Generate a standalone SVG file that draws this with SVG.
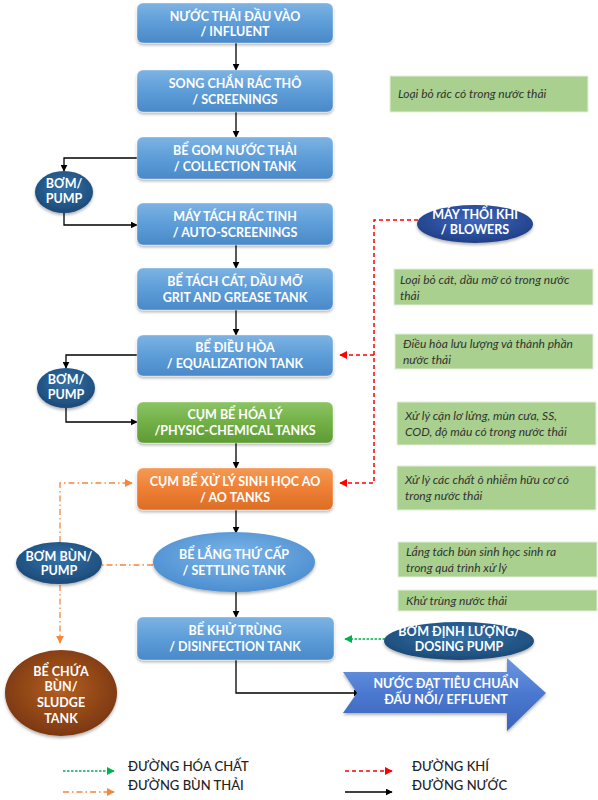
<svg xmlns="http://www.w3.org/2000/svg" width="598" height="800" viewBox="0 0 598 800">
<defs>
<linearGradient id="gBlue" x1="0" y1="0" x2="0" y2="1">
<stop offset="0" stop-color="#7DB3E3"/><stop offset="0.5" stop-color="#5D9DD8"/><stop offset="1" stop-color="#4A89C8"/>
</linearGradient>
<linearGradient id="gGreen" x1="0" y1="0" x2="0" y2="1">
<stop offset="0" stop-color="#8CC466"/><stop offset="0.5" stop-color="#72B045"/><stop offset="1" stop-color="#5E9B36"/>
</linearGradient>
<linearGradient id="gOrange" x1="0" y1="0" x2="0" y2="1">
<stop offset="0" stop-color="#F49A55"/><stop offset="0.5" stop-color="#EE7F34"/><stop offset="1" stop-color="#DB6E25"/>
</linearGradient>
<radialGradient id="gPump" cx="0.5" cy="0.4" r="0.6">
<stop offset="0" stop-color="#3472A8"/><stop offset="1" stop-color="#1B4A78"/>
</radialGradient>
<radialGradient id="gBlower" cx="0.5" cy="0.4" r="0.6">
<stop offset="0" stop-color="#3E68BE"/><stop offset="1" stop-color="#203F86"/>
</radialGradient>
<radialGradient id="gSettle" cx="0.5" cy="0.4" r="0.6">
<stop offset="0" stop-color="#7DB6E8"/><stop offset="1" stop-color="#4C8ED0"/>
</radialGradient>
<radialGradient id="gSludge" cx="0.5" cy="0.45" r="0.55">
<stop offset="0" stop-color="#B35F22"/><stop offset="1" stop-color="#7C3810"/>
</radialGradient>
<linearGradient id="gArrow" x1="0" y1="0" x2="0" y2="1">
<stop offset="0" stop-color="#6E97E0"/><stop offset="0.5" stop-color="#4A78D0"/><stop offset="1" stop-color="#3A64B8"/>
</linearGradient>
<filter id="sh" x="-10%" y="-20%" width="120%" height="150%">
<feDropShadow dx="0" dy="2" stdDeviation="1.5" flood-color="#000" flood-opacity="0.3"/>
</filter>
<marker id="mBlack" viewBox="0 0 10 10" refX="9" refY="5" markerWidth="7" markerHeight="7" orient="auto" markerUnits="userSpaceOnUse">
<path d="M0,0 L10,5 L0,10 z" fill="#000"/>
</marker>
<marker id="mRed" viewBox="0 0 10 10" refX="9" refY="5" markerWidth="8" markerHeight="8" orient="auto" markerUnits="userSpaceOnUse">
<path d="M0,0 L10,5 L0,10 z" fill="#F00"/>
</marker>
<marker id="mGreen" viewBox="0 0 10 10" refX="9" refY="5" markerWidth="8" markerHeight="8" orient="auto" markerUnits="userSpaceOnUse">
<path d="M0,0 L10,5 L0,10 z" fill="#00B050"/>
</marker>
<marker id="mOrange" viewBox="0 0 10 10" refX="9" refY="5" markerWidth="8" markerHeight="8" orient="auto" markerUnits="userSpaceOnUse">
<path d="M0,0 L10,5 L0,10 z" fill="#F4873C"/>
</marker>
</defs>
<style>
.box{stroke:#FFFFFF;stroke-opacity:0.35;stroke-width:1;filter:url(#sh)}
.t{font-family:"Lato","Open Sans","DejaVu Sans",sans-serif;font-weight:bold;font-size:12.5px;fill:#FFFFFF;text-anchor:middle}
.note rect{fill:#A9D08E;stroke:#E2F0D9;stroke-width:1}
.note text{font-family:"Lato","Open Sans","DejaVu Sans",sans-serif;font-style:italic;font-size:12px;fill:#333333}
.lg{font-family:"Lato","Open Sans","DejaVu Sans",sans-serif;font-size:13px;fill:#222222;font-weight:500}
.water{fill:none;stroke:#000;stroke-width:1.3;marker-end:url(#mBlack)}
.air{fill:none;stroke:#F00;stroke-width:1.5;stroke-dasharray:4 3}
.chem{fill:none;stroke:#00B050;stroke-width:1.5;stroke-dasharray:2.5 1.5}
.sludge{fill:none;stroke:#F4873C;stroke-width:1.3;stroke-dasharray:6 3 1.5 3}
</style>

<g id="connectors">
<path class="water" d="M236,43 V70"/>
<path class="water" d="M236,112 V137"/>
<path class="water" d="M137,158 H64 V171"/>
<path class="water" d="M64,212 V225 H137"/>
<path class="water" d="M236,245 V268"/>
<path class="water" d="M236,310 V335"/>
<path class="water" d="M137,355 H66 V368"/>
<path class="water" d="M66,408 V422 H137"/>
<path class="water" d="M236,443 V468"/>
<path class="water" d="M236,510 V533"/>
<path class="water" d="M236,592 V617"/>
<path class="water" d="M236,660 V693 H360"/>
<path class="air" d="M418,220 H374 V483 H340"/>
<path class="air" d="M374,355 H340"/>
<path d="M341,483 h-1" stroke="#F00" stroke-width="1.5" marker-end="url(#mRed)"/>
<path d="M341,355 h-1" stroke="#F00" stroke-width="1.5" marker-end="url(#mRed)"/>
<path class="chem" d="M385,639 H352"/>
<path d="M352,639 h-7" stroke="#00B050" stroke-width="1.5" marker-end="url(#mGreen)"/>
<path class="sludge" d="M153,565 H102"/>
<path class="sludge" d="M60,542 V483 H125"/>
<path d="M125,483 h7" stroke="#F4873C" stroke-width="1.3" marker-end="url(#mOrange)"/>
<path class="sludge" d="M60,585 V636"/>
<path d="M60,636 v7" stroke="#F4873C" stroke-width="1.3" marker-end="url(#mOrange)"/>
</g>

<g id="n-influent">
<rect class="box" x="137" y="3" width="196" height="40" rx="6" fill="url(#gBlue)"/>
<text class="t" x="235" y="21">NƯỚC THẢI ĐẦU VÀO</text>
<text class="t" x="235" y="36">/ INFLUENT</text>
</g>
<g id="n-screenings">
<rect class="box" x="137" y="70" width="196" height="42" rx="6" fill="url(#gBlue)"/>
<text class="t" x="235" y="88">SONG CHẮN RÁC THÔ</text>
<text class="t" x="235" y="104">/ SCREENINGS</text>
</g>
<g id="n-collection">
<rect class="box" x="137" y="137" width="196" height="42" rx="6" fill="url(#gBlue)"/>
<text class="t" x="235" y="155">BỂ GOM NƯỚC THẢI</text>
<text class="t" x="235" y="171">/ COLLECTION TANK</text>
</g>
<g id="n-pump1">
<ellipse cx="64" cy="192" rx="29" ry="21" fill="url(#gPump)" filter="url(#sh)"/>
<text class="t" x="64" y="188" font-size="12">BƠM/</text>
<text class="t" x="64" y="203" font-size="12">PUMP</text>
</g>
<g id="n-autoscreen">
<rect class="box" x="137" y="203" width="196" height="42" rx="6" fill="url(#gBlue)"/>
<text class="t" x="235" y="221">MÁY TÁCH RÁC TINH</text>
<text class="t" x="235" y="237">/ AUTO-SCREENINGS</text>
</g>
<g id="n-grit">
<rect class="box" x="137" y="268" width="196" height="42" rx="6" fill="url(#gBlue)"/>
<text class="t" x="235" y="286">BỂ TÁCH CÁT, DẦU MỠ</text>
<text class="t" x="235" y="302">GRIT AND GREASE TANK</text>
</g>
<g id="n-equal">
<rect class="box" x="137" y="335" width="196" height="41" rx="6" fill="url(#gBlue)"/>
<text class="t" x="235" y="352">BỂ ĐIỀU HÒA</text>
<text class="t" x="235" y="368">/ EQUALIZATION TANK</text>
</g>
<g id="n-pump2">
<ellipse cx="66" cy="388" rx="29" ry="20" fill="url(#gPump)" filter="url(#sh)"/>
<text class="t" x="66" y="384" font-size="12">BƠM/</text>
<text class="t" x="66" y="399" font-size="12">PUMP</text>
</g>
<g id="n-physchem">
<rect class="box" x="137" y="402" width="196" height="41" rx="6" fill="url(#gGreen)"/>
<text class="t" x="235" y="419">CỤM BỂ HÓA LÝ</text>
<text class="t" x="235" y="435">/PHYSIC-CHEMICAL TANKS</text>
</g>
<g id="n-ao">
<rect class="box" x="137" y="468" width="196" height="42" rx="6" fill="url(#gOrange)"/>
<text class="t" x="235" y="486">CỤM BỂ XỬ LÝ SINH HỌC AO</text>
<text class="t" x="235" y="502">/ AO TANKS</text>
</g>
<g id="n-settling">
<ellipse cx="234" cy="562" rx="81" ry="30" fill="url(#gSettle)" filter="url(#sh)"/>
<text class="t" x="234" y="559" font-size="13">BỂ LẮNG THỨ CẤP</text>
<text class="t" x="234" y="575" font-size="13">/ SETTLING TANK</text>
</g>
<g id="n-sludgepump">
<ellipse cx="59" cy="563" rx="43" ry="21" fill="url(#gPump)" filter="url(#sh)"/>
<text class="t" x="59" y="561" font-size="12">BƠM BÙN/</text>
<text class="t" x="59" y="575" font-size="12">PUMP</text>
</g>
<g id="n-disinfection">
<rect class="box" x="137" y="617" width="197" height="43" rx="6" fill="url(#gBlue)"/>
<text class="t" x="235" y="635">BỂ KHỬ TRÙNG</text>
<text class="t" x="235" y="651">/ DISINFECTION TANK</text>
</g>
<g id="n-sludgetank">
<ellipse cx="61" cy="693" rx="56" ry="43" fill="url(#gSludge)" filter="url(#sh)"/>
<text class="t" x="61" y="676">BỂ CHỨA</text>
<text class="t" x="61" y="691">BÙN/</text>
<text class="t" x="61" y="707">SLUDGE</text>
<text class="t" x="61" y="723">TANK</text>
</g>
<g id="n-blowers">
<ellipse cx="475" cy="224" rx="58" ry="19" fill="url(#gBlower)" filter="url(#sh)"/>
<text class="t" x="475" y="219" font-size="11.5">MÁY THỔI KHÍ</text>
<text class="t" x="475" y="234" font-size="11.5">/ BLOWERS</text>
</g>
<g id="n-dosing">
<ellipse cx="459" cy="641" rx="75" ry="19" fill="url(#gPump)" filter="url(#sh)"/>
<text class="t" x="459" y="636" font-size="11.5">BƠM ĐỊNH LƯỢNG/</text>
<text class="t" x="459" y="651" font-size="11.5">DOSING PUMP</text>
</g>
<g id="n-effluent">
<path d="M343,672 H507 V658 L546,693 L507,731 V713 H343 L357,693 Z" fill="url(#gArrow)" filter="url(#sh)"/>
<text class="t" x="446" y="688" font-size="13.5">NƯỚC ĐẠT TIÊU CHUẨN</text>
<text class="t" x="446" y="704" font-size="13.5">ĐẤU NỐI/ EFFLUENT</text>
</g>

<g id="notes">
<g class="note" id="note1"><rect x="390" y="76" width="198" height="36"/><text x="398" y="98">Loại bỏ rác có trong nước thải</text></g>
<g class="note" id="note2"><rect x="394" y="269" width="199" height="36"/><text x="400" y="284">Loại bỏ cát, dầu mỡ có trong nước</text><text x="400" y="300">thải</text></g>
<g class="note" id="note3"><rect x="395" y="334" width="198" height="35"/><text x="403" y="348">Điều hòa lưu lượng và thành phần</text><text x="403" y="364">nước thải</text></g>
<g class="note" id="note4"><rect x="397" y="402" width="199" height="43"/><text x="405" y="420">Xử lý cặn lơ lửng, mùn cưa, SS,</text><text x="405" y="436">COD, độ màu có trong nước thải</text></g>
<g class="note" id="note5"><rect x="397" y="466" width="199" height="44"/><text x="405" y="484">Xử lý các chất ô nhiễm hữu cơ có</text><text x="405" y="500">trong nước thải</text></g>
<g class="note" id="note6"><rect x="398" y="542" width="199" height="35"/><text x="406" y="556">Lắng tách bùn sinh học sinh ra</text><text x="406" y="572">trong quá trình xử lý</text></g>
<g class="note" id="note7"><rect x="398" y="590" width="199" height="21"/><text x="406" y="605">Khử trùng nước thải</text></g>
</g>

<g id="legend">
<path class="chem" d="M63,771 H107"/>
<path d="M107,771 h7" stroke="#00B050" stroke-width="1.5" marker-end="url(#mGreen)"/>
<text class="lg" x="128" y="771">ĐƯỜNG HÓA CHẤT</text>
<path class="sludge" d="M63,792 H107"/>
<path d="M107,792 h7" stroke="#F4873C" stroke-width="1.3" marker-end="url(#mOrange)"/>
<text class="lg" x="128" y="790">ĐƯỜNG BÙN THẢI</text>
<path class="air" d="M345,771 H385"/>
<path d="M385,771 h7" stroke="#F00" stroke-width="1.5" marker-end="url(#mRed)"/>
<text class="lg" x="412" y="771">ĐƯỜNG KHÍ</text>
<path class="water" d="M345,792 H392"/>
<text class="lg" x="412" y="790">ĐƯỜNG NƯỚC</text>
</g>
</svg>
